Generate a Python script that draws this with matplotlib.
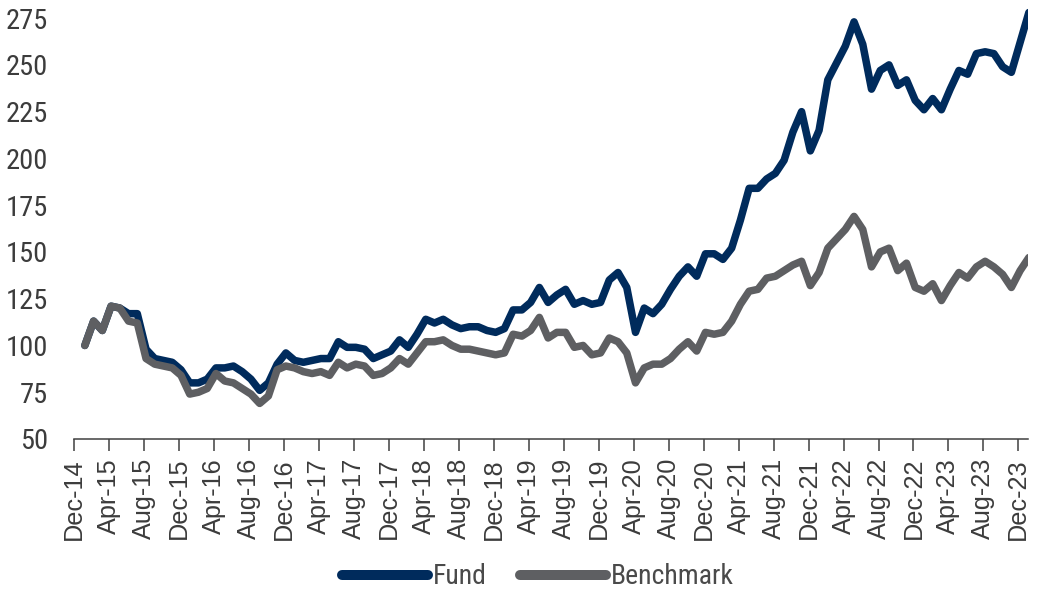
import numpy as np
import matplotlib
matplotlib.use("Agg")
import matplotlib.pyplot as plt
from matplotlib import font_manager

# monthly index values, Dec-14 .. Dec-23
fund = [100, 113, 108, 121, 120, 117, 117, 98, 93, 92, 91, 87, 80, 80, 82, 88, 88, 89, 86, 82,
        76, 80, 90, 96, 92, 91, 92, 93, 93, 102, 99, 99, 98, 93, 95, 97, 103, 99, 106, 114,
        112, 114, 111, 109, 110, 110, 108, 107, 109, 119, 119, 123, 131, 123, 127, 130, 122, 124, 122, 123,
        135, 139, 131, 107, 120, 117, 122, 130, 137, 142, 137, 149, 149, 146, 152, 167, 184, 184, 189, 192,
        199, 214, 225, 204, 215, 242, 251, 260, 273, 261, 237, 247, 250, 239, 242, 231, 226, 232, 226, 237,
        247, 245, 256, 257, 256, 249, 246, 262, 278]
benchmark = [100, 113, 108, 121, 120, 113, 112, 93, 90, 89, 88, 84, 74, 75, 77, 85, 81, 80, 77, 74,
             69, 73, 87, 89, 88, 86, 85, 86, 84, 91, 88, 90, 89, 84, 85, 88, 93, 90, 96, 102,
             102, 103, 100, 98, 98, 97, 96, 95, 96, 106, 105, 108, 115, 104, 107, 107, 99, 100, 95, 96,
             104, 102, 96, 80, 88, 90, 90, 93, 98, 102, 97, 107, 106, 107, 113, 122, 129, 130, 136, 137,
             140, 143, 145, 132, 139, 152, 157, 162, 169, 162, 142, 150, 152, 140, 144, 131, 129, 133, 124, 132,
             139, 136, 142, 145, 142, 138, 131, 140, 147]

months = ["Dec", "Apr", "Aug"]
tick_labels = [f"{months[k % 3]}-{14 + (k + 2) // 3}" for k in range(28)]
y_ticks = list(range(50, 276, 25))

fund_color = "#002b5c"
bench_color = "#5e5f62"
text_color = "#3c3c3c"

REGULAR = (400, "normal", "regular", "book")
NORMAL_STRETCH = (500, 100, "normal")


def narrow_font(size):
    # look for a condensed / narrow sans face among the installed fonts
    prefs = ["Liberation Sans Narrow", "Roboto Condensed", "Open Sans Condensed", "DejaVu Sans"]
    found = []
    for f in font_manager.fontManager.ttflist:
        narrowish = ("Narrow" in f.name or "Condensed" in f.name
                     or f.stretch in ("condensed", "semi-condensed", "extra-condensed", 75, 87.5))
        if narrowish and f.style == "normal" and f.weight in REGULAR:
            found.append(f)
    for p in prefs:
        for f in found:
            if f.name == p:
                return font_manager.FontProperties(fname=f.fname, size=size)
    if found:
        return font_manager.FontProperties(fname=found[0].fname, size=size)
    return font_manager.FontProperties(family="DejaVu Sans", stretch="condensed", size=size)


def plain_font(size):
    for name in ["Liberation Sans", "Arimo", "DejaVu Sans"]:
        for f in font_manager.fontManager.ttflist:
            fn = f.fname.lower()
            if (f.name == name and f.style == "normal" and f.weight in REGULAR
                    and f.stretch in NORMAL_STRETCH and "narrow" not in fn and "condensed" not in fn):
                return font_manager.FontProperties(fname=f.fname, size=size)
    return font_manager.FontProperties(family="DejaVu Sans", size=size)


fig = plt.figure(figsize=(10.37, 5.95), dpi=100)
ax = fig.add_axes([0.0717, 0.2622, 0.9196, 0.7294])

x = np.arange(len(fund)) + 1.2
ax.plot(x, fund, color=fund_color, lw=5.4, solid_joinstyle="round", solid_capstyle="round", label="Fund")
ax.plot(x, benchmark, color=bench_color, lw=5.4, solid_joinstyle="round", solid_capstyle="round", label="Benchmark")

ax.set_xlim(0, 109.1)
ax.set_ylim(50, 282)

ax.set_xticks(np.arange(0, 109, 4))
ax.set_xticklabels(tick_labels, rotation=90, color=text_color, fontproperties=plain_font(18.2))
ax.set_yticks(y_ticks)
ax.set_yticklabels([str(v) for v in y_ticks], color=text_color, fontproperties=narrow_font(20.5))

ax.tick_params(axis="x", direction="out", length=8.6, width=1.1, color="#404040", pad=5)
ax.tick_params(axis="y", length=0, pad=19)

for s in ["top", "right", "left"]:
    ax.spines[s].set_visible(False)
ax.spines["bottom"].set_color("#404040")
ax.spines["bottom"].set_linewidth(1.1)

leg = fig.legend(loc="center", bbox_to_anchor=(538 / 1037, 1 - 577 / 595), ncol=2, frameon=False,
                 handlelength=3.1, handletextpad=0.18, columnspacing=1.2,
                 prop=narrow_font(20))
for line in leg.get_lines():
    line.set_linewidth(7.2)
    line.set_solid_capstyle("round")
for t in leg.get_texts():
    t.set_color("#4a4a4a")

fig.savefig("out.png", dpi=100)
